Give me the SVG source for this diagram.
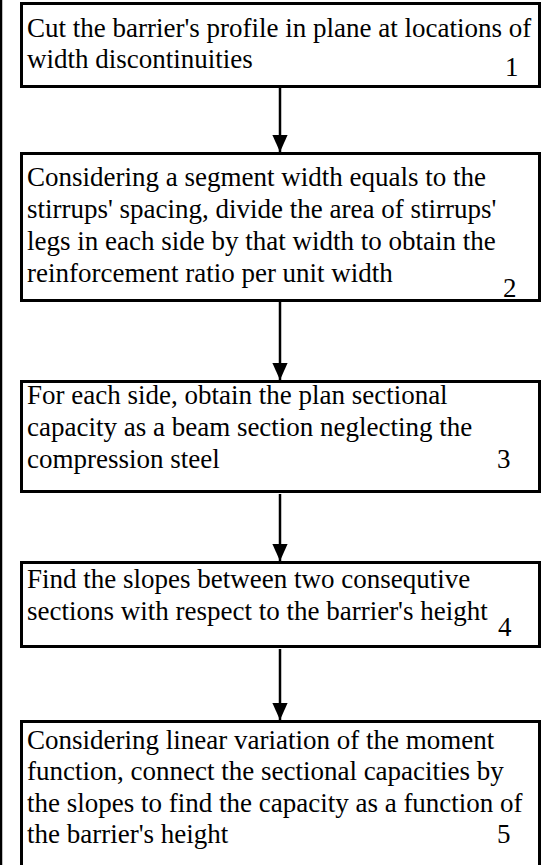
<svg xmlns="http://www.w3.org/2000/svg" width="546" height="865" viewBox="0 0 546 865">
<defs>
<marker id="ah" markerWidth="17" markerHeight="19" refX="19" refY="8.5" orient="auto" markerUnits="userSpaceOnUse" viewBox="0 0 19 17">
<path d="M0,0 L19,8.5 L0,17 Z" fill="#000"/>
</marker>
</defs>
<rect x="0" y="0" width="546" height="865" fill="#fff"/>
<line x1="1" y1="0" x2="1" y2="865" stroke="#000" stroke-width="2.5"/>
<g id="connectors" stroke="#000" stroke-width="2.5" fill="none">
<line x1="280" y1="88" x2="280" y2="152" marker-end="url(#ah)"/>
<line x1="280" y1="302" x2="280" y2="380" marker-end="url(#ah)"/>
<line x1="280" y1="494" x2="280" y2="561" marker-end="url(#ah)"/>
<line x1="280" y1="649" x2="280" y2="720" marker-end="url(#ah)"/>
</g>
<g id="n1">
<rect x="21.5" y="3.5" width="518" height="83" fill="#fff" stroke="#000" stroke-width="3"/>
<text x="27" y="37" font-family="'Liberation Serif'" font-size="27">Cut the barrier's profile in plane at locations of</text>
<text x="27" y="68" font-family="'Liberation Serif'" font-size="27">width discontinuities</text>
<text x="505" y="76" font-family="'Liberation Serif'" font-size="27">1</text>
</g>
<g id="n2">
<rect x="21.5" y="153.5" width="518" height="147" fill="#fff" stroke="#000" stroke-width="3"/>
<text x="27" y="186" font-family="'Liberation Serif'" font-size="27">Considering a segment width equals to the</text>
<text x="27" y="218" font-family="'Liberation Serif'" font-size="27">stirrups' spacing, divide the area of stirrups'</text>
<text x="27" y="250" font-family="'Liberation Serif'" font-size="27">legs in each side by that width to obtain the</text>
<text x="27" y="282" font-family="'Liberation Serif'" font-size="27">reinforcement ratio per unit width</text>
<text x="503" y="297" font-family="'Liberation Serif'" font-size="27">2</text>
</g>
<g id="n3">
<rect x="21.5" y="381.5" width="518" height="110" fill="#fff" stroke="#000" stroke-width="3"/>
<text x="27" y="404" font-family="'Liberation Serif'" font-size="27">For each side, obtain the plan sectional</text>
<text x="27" y="436" font-family="'Liberation Serif'" font-size="27">capacity as a beam section neglecting the</text>
<text x="27" y="468" font-family="'Liberation Serif'" font-size="27">compression steel</text>
<text x="497" y="468" font-family="'Liberation Serif'" font-size="27">3</text>
</g>
<g id="n4">
<rect x="21.5" y="562.5" width="518" height="84" fill="#fff" stroke="#000" stroke-width="3"/>
<text x="27" y="588" font-family="'Liberation Serif'" font-size="27">Find the slopes between two consequtive</text>
<text x="27" y="620" font-family="'Liberation Serif'" font-size="27">sections with respect to the barrier's height</text>
<text x="498" y="636" font-family="'Liberation Serif'" font-size="27">4</text>
</g>
<g id="n5">
<rect x="21.5" y="721.5" width="518" height="160" fill="#fff" stroke="#000" stroke-width="3"/>
<text x="27" y="749" font-family="'Liberation Serif'" font-size="27">Considering linear variation of the moment</text>
<text x="27" y="780" font-family="'Liberation Serif'" font-size="27">function, connect the sectional capacities by</text>
<text x="27" y="812" font-family="'Liberation Serif'" font-size="27">the slopes to find the capacity as a function of</text>
<text x="27" y="843" font-family="'Liberation Serif'" font-size="27">the barrier's height</text>
<text x="497" y="843" font-family="'Liberation Serif'" font-size="27">5</text>
</g>
</svg>
